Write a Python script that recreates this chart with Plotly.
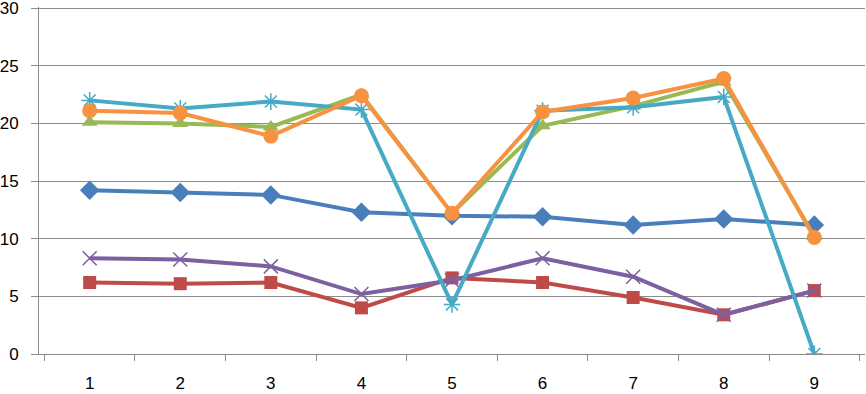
import plotly.graph_objects as go

categories = ["1", "2", "3", "4", "5", "6", "7", "8", "9"]
series1 = [14.2, 14.0, 13.8, 12.3, 12.0, 11.9, 11.2, 11.7, 11.2]
series2 = [6.2, 6.1, 6.2, 4.0, 6.6, 6.2, 4.9, 3.4, 5.5]
series3 = [20.1, 20.0, 19.7, 22.5, 12.2, 19.8, 21.5, 23.6, 10.2]
series4 = [8.3, 8.2, 7.6, 5.2, 6.4, 8.3, 6.7, 3.4, 5.5]
series5 = [22.0, 21.3, 21.9, 21.2, 4.3, 21.1, 21.4, 22.3, 0.0]
series6 = [21.1, 20.9, 18.9, 22.4, 12.2, 21.0, 22.2, 23.9, 10.1]
y_ticks = [0, 5, 10, 15, 20, 25, 30]

styles = [
    (series1, "#4A7EBB", dict(symbol="diamond", size=15)),
    (series2, "#BE4B48", dict(symbol="square", size=13)),
    (series3, "#98B954", dict(symbol="triangle-up", size=14)),
    (series4, "#7D60A0", dict(symbol="x-thin-open", size=14, line=dict(width=1.5, color="#7D60A0"))),
    (series5, "#46AAC5", dict(symbol="asterisk-open", size=14, line=dict(width=1.5, color="#46AAC5"))),
    (series6, "#F69240", dict(symbol="circle", size=15)),
]

fig = go.Figure()
for vals, color, marker in styles:
    m = dict(color=color, **marker)
    fig.add_trace(go.Scatter(x=categories, y=vals, mode="lines+markers",
                             line=dict(color=color, width=4), marker=m,
                             showlegend=False))

fig.update_layout(
    width=866, height=394,
    margin=dict(l=39, r=1, t=7, b=40, autoexpand=False),
    plot_bgcolor="white", paper_bgcolor="white",
    font=dict(family="Liberation Sans, Arial, sans-serif", size=17, color="black"),
)
fig.update_xaxes(type="category", tickson="boundaries", ticks="outside", ticklen=6,
                 tickcolor="#8C8C8C", showline=True, linecolor="#8C8C8C", linewidth=1,
                 showgrid=False, ticklabelstandoff=14, automargin=False)
fig.update_yaxes(range=[0, 30.1], tickmode="array", tickvals=y_ticks,
                 ticks="outside", ticklen=7, tickcolor="#8C8C8C",
                 showline=True, linecolor="#8C8C8C", linewidth=1,
                 showgrid=True, gridcolor="#8C8C8C", gridwidth=1, zeroline=False,
                 ticklabelstandoff=9, ticklabeloverflow="allow", automargin=False)

fig.write_html("out.html", config={"displayModeBar": False},
               post_script="document.body.style.margin='0';document.body.style.padding='0';")
